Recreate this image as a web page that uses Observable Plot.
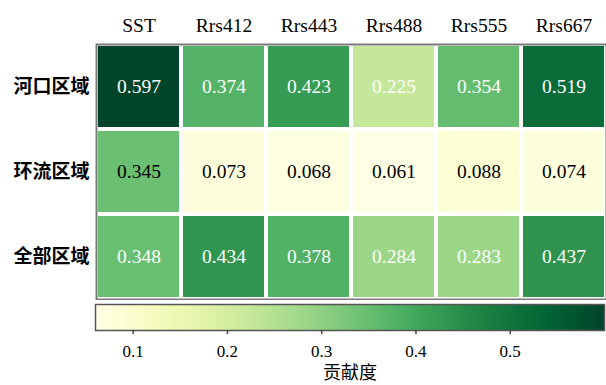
<!DOCTYPE html>
<html>
<head>
<meta charset="utf-8">
<script src="https://cdn.jsdelivr.net/npm/d3@7"></script>
<script src="https://cdn.jsdelivr.net/npm/@observablehq/plot@0.6"></script>
<style>
  html, body { margin: 0; padding: 0; background: #fff; }
  #chart { width: 606px; height: 385px; overflow: hidden; }
  #chart svg { display: block; }
</style>
</head>
<body>
<div id="chart"></div>
<script>
// Contribution of each input variable, per region
const variables = ["SST", "Rrs412", "Rrs443", "Rrs488", "Rrs555", "Rrs667"];
const regions = ["河口区域", "环流区域", "全部区域"];
const estuaryValues = [0.597, 0.374, 0.423, 0.225, 0.354, 0.519];
const circulationValues = [0.345, 0.073, 0.068, 0.061, 0.088, 0.074];
const allRegionValues = [0.348, 0.434, 0.378, 0.284, 0.283, 0.437];
const colorbarTicks = [0.1, 0.2, 0.3, 0.4, 0.5];
const colorbarLabel = "贡献度";
const blackTextRegions = ["环流区域"];

const rows = [estuaryValues, circulationValues, allRegionValues];
const table = regions.flatMap((region, i) =>
  variables.map((variable, j) => ({region, variable, value: rows[i][j]}))
);

const allValues = table.map(d => d.value);
const colorDomain = [d3.min(allValues), d3.max(allValues)];
const serif = "'Liberation Serif', 'Times New Roman', 'Noto Sans CJK SC', serif";

const heatmap = Plot.plot({
  width: 606,
  height: 300,
  marginLeft: 96,
  marginRight: 0,
  marginTop: 44,
  marginBottom: 1,
  style: {fontFamily: serif, fontSize: "19.5px", color: "#000", background: "transparent"},
  x: {domain: variables, padding: 0, axis: null},
  y: {domain: regions, padding: 0, axis: null},
  color: {type: "linear", scheme: "YlGn", domain: colorDomain, clamp: true},
  marks: [
    Plot.cell(table, {x: "variable", y: "region", fill: "value", inset: 2}),
    Plot.text(table, {
      x: "variable", y: "region",
      text: d => d.value.toFixed(3),
      fill: d => blackTextRegions.includes(d.region) ? "#000" : "#fff",
      fontSize: 19.5
    }),
    Plot.frame({stroke: "#7a7a7a", strokeWidth: 2}),
    Plot.axisX({anchor: "top", tickSize: 0, tickPadding: 13, fontSize: 19.5, label: null}),
    Plot.axisY({anchor: "left", tickSize: 0, tickPadding: 7, fontSize: 19, label: null,
      fontFamily: "'Noto Sans CJK SC', sans-serif", fontWeight: "bold"})
  ]
});

// Continuous colour bar sampled from the same colour scale
const step = 0.001;
const ramp = d3.range(0.055, 0.605, step).map(v => ({v}));

const colorbar = Plot.plot({
  width: 606,
  height: 85,
  marginLeft: 95,
  marginRight: 2,
  marginTop: 4,
  marginBottom: 55,
  style: {fontFamily: serif, fontSize: "17px", color: "#000", background: "transparent"},
  x: {domain: [0.06, 0.6]},
  color: {type: "linear", scheme: "YlGn", domain: colorDomain, clamp: true},
  marks: [
    Plot.rect(ramp, {x1: "v", x2: d => d.v + step * 3, fill: "v", clip: true, shapeRendering: "crispEdges"}),
    Plot.frame({stroke: "#555", strokeWidth: 1.5}),
    Plot.axisX({
      anchor: "bottom", ticks: colorbarTicks, tickFormat: d3.format(".1f"),
      tickSize: 4, tickPadding: 10, stroke: "#444", strokeWidth: 1.5, fontSize: 17,
      label: colorbarLabel, labelAnchor: "center", labelArrow: "none", labelOffset: 48
    })
  ]
});

const root = document.getElementById("chart");
root.append(heatmap, colorbar);
// The axis label shares the tick font; give it the CJK face
d3.select(colorbar).selectAll("[aria-label='x-axis label'] text, [aria-label='x-axis label']")
  .attr("font-family", "'Noto Sans CJK SC', sans-serif").attr("font-size", 18);
</script>
</body>
</html>
